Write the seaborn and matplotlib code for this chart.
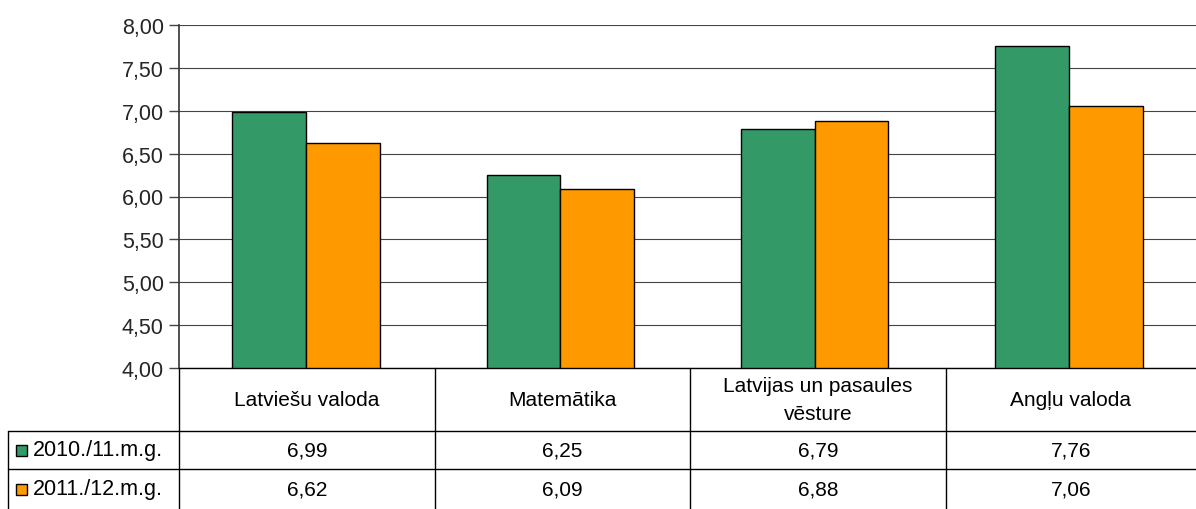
import pandas as pd
import seaborn as sns
import matplotlib.pyplot as plt
from matplotlib.lines import Line2D
from matplotlib.patches import Rectangle

categories = ["Latviešu valoda", "Matemātika", "Latvijas un pasaules\nvēsture", "Angļu valoda"]
series = ["2010./11.m.g.", "2011./12.m.g."]
vals_2010 = [6.99, 6.25, 6.79, 7.76]
vals_2011 = [6.62, 6.09, 6.88, 7.06]
colors = ["#339966", "#FF9900"]

df = pd.DataFrame({
    "cat": categories * 2,
    "year": [series[0]] * 4 + [series[1]] * 4,
    "val": vals_2010 + vals_2011,
})

sns.set_theme(style="white")
plt.rcParams["font.family"] = ["Liberation Sans", "DejaVu Sans"]

W, H = 1196, 510
fig = plt.figure(figsize=(W / 100, H / 100), dpi=100)
fs = 15

# plot area in pixels
L, R, T, B = 179, 1196, 26, 369
ax = fig.add_axes([L / W, 1 - B / H, (R - L) / W, (B - T) / H])

sns.barplot(data=df, x="cat", y="val", hue="year", palette=colors,
            width=0.58, edgecolor="black", linewidth=1, saturation=1,
            legend=False, ax=ax)
ax.set_ylim(4, 8)
ax.set_xlim(-0.5, 3.5)
ax.set_yticks([4 + 0.5 * i for i in range(9)])
ax.set_yticklabels([f"{4 + 0.5 * i:.2f}".replace(".", ",") for i in range(9)], fontsize=15.5)
ax.set_xticks([])
ax.set_xlabel("")
ax.set_ylabel("")
ax.yaxis.grid(True, color="#444444", linewidth=0.8)
ax.set_axisbelow(True)
ax.tick_params(axis="y", which="both", left=True, length=7, width=1, color="#444444", pad=4)
for s in ["top", "right", "bottom"]:
    ax.spines[s].set_visible(False)
ax.spines["left"].set_color("#333333")
ax.spines["left"].set_linewidth(1.2)

# data table drawn in figure pixel coordinates
ov = fig.add_axes([0, 0, 1, 1])
ov.set_xlim(0, W)
ov.set_ylim(H, 0)
ov.axis("off")
ov.patch.set_alpha(0)

col_edges = [179, 435, 690, 946, 1196]
row_edges = [369, 432, 470, 510]
lw = 1.0
ov.add_line(Line2D([179, 1196], [369, 369], color="black", lw=lw))
for y in row_edges[1:3]:
    ov.add_line(Line2D([8, 1196], [y, y], color="black", lw=lw))
ov.add_line(Line2D([8, 8], [432, 510], color="black", lw=lw))
for x in col_edges[:4]:
    ov.add_line(Line2D([x, x], [369, 510], color="black", lw=lw))

for i, c in enumerate(categories):
    cx = (col_edges[i] + col_edges[i + 1]) / 2
    ov.text(cx, (369 + 432) / 2, c, ha="center", va="center", fontsize=fs,
            linespacing=1.65, color="black")
    for r, vals in enumerate([vals_2010, vals_2011]):
        cy = (row_edges[r + 1] + row_edges[r + 2]) / 2
        ov.text(cx, cy, f"{vals[i]:.2f}".replace(".", ","), ha="center", va="center",
                fontsize=fs, color="black")

for r, name in enumerate(series):
    cy = (row_edges[r + 1] + row_edges[r + 2]) / 2
    ov.add_patch(Rectangle((16, cy - 5.5), 11, 11, facecolor=colors[r], edgecolor="black", lw=1))
    ov.text(33, cy, name, ha="left", va="center", fontsize=15.5, color="black")

fig.savefig("out.png", dpi=100)
